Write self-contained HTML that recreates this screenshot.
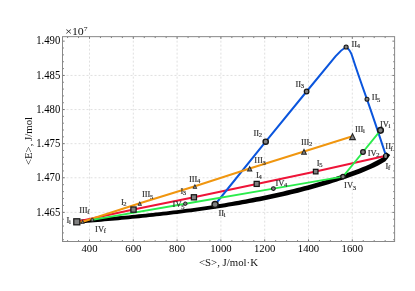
<!DOCTYPE html><html><head><meta charset="utf-8"><style>html,body{margin:0;padding:0;background:#fff;}svg{display:block;will-change:transform;}text{font-family:"Liberation Serif",serif;}</style></head><body>
<svg width="415" height="291" viewBox="0 0 415 291">
<rect width="415" height="291" fill="#fff"/>
<path d="M89.50 36.65V241.5 M133.30 36.65V241.5 M177.10 36.65V241.5 M220.90 36.65V241.5 M264.70 36.65V241.5 M308.50 36.65V241.5 M352.30 36.65V241.5 M62.5 212.40H394.6 M62.5 177.75H394.6 M62.5 143.65H394.6 M62.5 109.55H394.6 M62.5 75.45H394.6" stroke="#dcdcdc" stroke-width="0.9" stroke-dasharray="2,2" fill="none"/>
<path d="M67.60 241.5v-1.4M67.60 36.65v1.4 M78.55 241.5v-1.4M78.55 36.65v1.4 M89.50 241.5v-2.2M89.50 36.65v2.2 M100.45 241.5v-1.4M100.45 36.65v1.4 M111.40 241.5v-1.4M111.40 36.65v1.4 M122.35 241.5v-1.4M122.35 36.65v1.4 M133.30 241.5v-2.2M133.30 36.65v2.2 M144.25 241.5v-1.4M144.25 36.65v1.4 M155.20 241.5v-1.4M155.20 36.65v1.4 M166.15 241.5v-1.4M166.15 36.65v1.4 M177.10 241.5v-2.2M177.10 36.65v2.2 M188.05 241.5v-1.4M188.05 36.65v1.4 M199.00 241.5v-1.4M199.00 36.65v1.4 M209.95 241.5v-1.4M209.95 36.65v1.4 M220.90 241.5v-2.2M220.90 36.65v2.2 M231.85 241.5v-1.4M231.85 36.65v1.4 M242.80 241.5v-1.4M242.80 36.65v1.4 M253.75 241.5v-1.4M253.75 36.65v1.4 M264.70 241.5v-2.2M264.70 36.65v2.2 M275.65 241.5v-1.4M275.65 36.65v1.4 M286.60 241.5v-1.4M286.60 36.65v1.4 M297.55 241.5v-1.4M297.55 36.65v1.4 M308.50 241.5v-2.2M308.50 36.65v2.2 M319.45 241.5v-1.4M319.45 36.65v1.4 M330.40 241.5v-1.4M330.40 36.65v1.4 M341.35 241.5v-1.4M341.35 36.65v1.4 M352.30 241.5v-2.2M352.30 36.65v2.2 M363.25 241.5v-1.4M363.25 36.65v1.4 M374.20 241.5v-1.4M374.20 36.65v1.4 M385.15 241.5v-1.4M385.15 36.65v1.4 M62.5 239.72h1.4M394.6 239.72h-1.4 M62.5 232.89h1.4M394.6 232.89h-1.4 M62.5 226.06h1.4M394.6 226.06h-1.4 M62.5 219.23h1.4M394.6 219.23h-1.4 M62.5 212.40h2.2M394.6 212.40h-2.2 M62.5 205.47h1.4M394.6 205.47h-1.4 M62.5 198.54h1.4M394.6 198.54h-1.4 M62.5 191.61h1.4M394.6 191.61h-1.4 M62.5 184.68h1.4M394.6 184.68h-1.4 M62.5 177.75h2.2M394.6 177.75h-2.2 M62.5 170.93h1.4M394.6 170.93h-1.4 M62.5 164.11h1.4M394.6 164.11h-1.4 M62.5 157.29h1.4M394.6 157.29h-1.4 M62.5 150.47h1.4M394.6 150.47h-1.4 M62.5 143.65h2.2M394.6 143.65h-2.2 M62.5 136.83h1.4M394.6 136.83h-1.4 M62.5 130.01h1.4M394.6 130.01h-1.4 M62.5 123.19h1.4M394.6 123.19h-1.4 M62.5 116.37h1.4M394.6 116.37h-1.4 M62.5 109.55h2.2M394.6 109.55h-2.2 M62.5 102.73h1.4M394.6 102.73h-1.4 M62.5 95.91h1.4M394.6 95.91h-1.4 M62.5 89.09h1.4M394.6 89.09h-1.4 M62.5 82.27h1.4M394.6 82.27h-1.4 M62.5 75.45h2.2M394.6 75.45h-2.2 M62.5 68.59h1.4M394.6 68.59h-1.4 M62.5 61.73h1.4M394.6 61.73h-1.4 M62.5 54.87h1.4M394.6 54.87h-1.4 M62.5 48.01h1.4M394.6 48.01h-1.4 M62.5 41.15h2.2M394.6 41.15h-2.2" stroke="#444" stroke-width="0.7" fill="none"/>
<rect x="62.5" y="36.65" width="332.10" height="204.85" fill="none" stroke="#888" stroke-width="1"/>
<path d="M76.96 223.70 L80.41 223.42 L83.86 223.13 L87.31 222.85 L90.76 222.56 L94.21 222.27 L97.67 221.97 L101.12 221.67 L104.57 221.37 L108.02 221.07 L111.48 220.76 L114.93 220.45 L118.38 220.14 L121.83 219.82 L125.29 219.49 L128.74 219.16 L132.19 218.83 L135.65 218.49 L139.10 218.15 L142.55 217.80 L146.01 217.44 L149.46 217.08 L152.92 216.71 L156.37 216.33 L159.82 215.95 L163.28 215.56 L166.73 215.16 L170.19 214.76 L173.64 214.34 L177.10 213.92 L180.55 213.49 L184.01 213.05 L187.46 212.61 L190.92 212.15 L194.38 211.68 L197.83 211.21 L201.29 210.72 L204.74 210.23 L208.20 209.73 L211.66 209.21 L215.11 208.68 L218.57 208.18 L222.04 207.66 L225.50 207.14 L228.96 206.60 L232.42 206.05 L235.89 205.49 L239.35 204.91 L242.82 204.33 L246.28 203.73 L249.74 203.11 L253.21 202.49 L256.67 201.84 L260.13 201.15 L263.59 200.46 L267.05 199.74 L270.51 199.02 L273.98 198.27 L277.44 197.52 L280.90 196.75 L284.36 195.96 L287.82 195.16 L291.28 194.33 L294.75 193.50 L298.21 192.64 L301.67 191.76 L305.14 190.86 L308.60 189.95 L312.07 189.01 L315.53 188.05 L319.00 187.06 L322.46 186.05 L325.93 185.02 L329.40 183.96 L332.87 182.87 L336.33 181.76 L339.80 180.62 L343.27 179.46 L346.74 178.26 L350.21 177.03 L353.68 175.78 L357.15 174.49 L360.62 173.17 L364.10 171.80 L367.60 170.36 L371.10 168.84 L374.61 167.20 L378.13 165.44 L381.66 163.52 L385.45 161.25 L387.54 158.70 L388.76 157.07 L390.23 155.11 L386.31 152.17 L384.84 154.13 L383.66 155.70 L382.35 157.46 L379.24 159.27 L375.87 161.12 L372.49 162.82 L369.10 164.40 L365.70 165.89 L362.29 167.30 L358.87 168.65 L355.44 169.97 L352.01 171.25 L348.58 172.50 L345.15 173.72 L341.72 174.91 L338.28 176.08 L334.85 177.21 L331.42 178.32 L327.98 179.41 L324.55 180.46 L321.12 181.49 L317.68 182.50 L314.25 183.49 L310.81 184.45 L307.37 185.39 L303.94 186.31 L300.50 187.20 L297.06 188.08 L293.63 188.94 L290.19 189.78 L286.75 190.61 L283.31 191.41 L279.87 192.20 L276.43 192.98 L272.99 193.74 L269.55 194.48 L266.11 195.21 L262.67 195.93 L259.23 196.63 L255.78 197.32 L252.35 198.02 L248.91 198.71 L245.48 199.38 L242.04 200.05 L238.60 200.70 L235.16 201.34 L231.73 201.97 L228.29 202.58 L224.85 203.19 L221.41 203.78 L217.97 204.36 L214.53 204.93 L211.09 205.45 L207.64 205.97 L204.20 206.47 L200.75 206.96 L197.31 207.45 L193.86 207.92 L190.42 208.38 L186.97 208.84 L183.53 209.28 L180.08 209.72 L176.63 210.15 L173.19 210.57 L169.74 210.98 L166.30 211.39 L162.85 211.78 L159.40 212.17 L155.96 212.55 L152.51 212.93 L149.06 213.30 L145.61 213.66 L142.17 214.02 L138.72 214.37 L135.27 214.71 L131.82 215.05 L128.38 215.38 L124.93 215.71 L121.48 216.03 L118.03 216.35 L114.58 216.67 L111.14 216.98 L107.69 217.29 L104.24 217.59 L100.79 217.89 L97.34 218.19 L93.89 218.48 L90.44 218.77 L86.99 219.06 L83.54 219.35 L80.09 219.63 L76.64 219.91Z" fill="#000" stroke="none"/>
<path d="M76.8 221.8 L133.5 209.6 L193.9 197.3 L256.7 183.9 L315.7 171.6 L386.0 155.7" stroke="#ee1438" stroke-width="2" fill="none" stroke-linejoin="round"/>
<path d="M215.1 204.5 L265.7 141.7 L306.6 91.5 L335.7 56.2 C338.2 53.1,342.9 48.8,346.1 47 C348.6 48.6,351 52.2,352.3 56.5 C354.2 62.5,361.5 84,367 99.3 C372 113.5,381 140.5,386 155.7" stroke="#0a55dd" stroke-width="2" fill="none" stroke-linejoin="round"/>
<path d="M352.5 136.3 L304.0 151.5 L249.7 168.5 L194.9 186.2 L139.8 203.3 L82.7 221.7 L76.8 221.8" stroke="#f0960f" stroke-width="2" fill="none" stroke-linejoin="round"/>
<path d="M92.3 219.9 L185.3 203.7 L273.4 188.6 L343.0 176.6 L363.0 152.0 L380.5 130.3" stroke="#2aec4c" stroke-width="1.9" fill="none" stroke-linejoin="round"/>
<rect x="73.77" y="218.78" width="6.05" height="6.05" fill="#808080" stroke="#161616" stroke-width="1.25"/>
<rect x="130.88" y="206.97" width="5.25" height="5.25" fill="#808080" stroke="#161616" stroke-width="1.25"/>
<rect x="191.33" y="194.73" width="5.15" height="5.15" fill="#808080" stroke="#161616" stroke-width="1.25"/>
<rect x="254.17" y="181.38" width="5.05" height="5.05" fill="#808080" stroke="#161616" stroke-width="1.25"/>
<rect x="313.43" y="169.32" width="4.55" height="4.55" fill="#808080" stroke="#161616" stroke-width="1.25"/>
<path d="M348.75 140.20L356.25 140.20L352.50 132.40Z" fill="#242424"/><path d="M350.50 139.10L354.50 139.10L352.50 134.94Z" fill="#808080"/>
<path d="M300.85 154.78L307.15 154.78L304.00 148.22Z" fill="#242424"/><path d="M302.45 153.77L305.55 153.77L304.00 150.55Z" fill="#808080"/>
<path d="M246.75 171.57L252.65 171.57L249.70 165.43Z" fill="#242424"/><path d="M248.25 170.62L251.15 170.62L249.70 167.61Z" fill="#808080"/>
<path d="M192.50 188.70L197.30 188.70L194.90 183.70Z" fill="#242424"/><path d="M193.72 187.93L196.08 187.93L194.90 185.48Z" fill="#808080"/>
<path d="M137.55 205.64L142.05 205.64L139.80 200.96Z" fill="#242424"/><path d="M138.70 204.92L140.90 204.92L139.80 202.62Z" fill="#808080"/>
<path d="M80.70 223.78L84.70 223.78L82.70 219.62Z" fill="#242424"/><path d="M81.72 223.14L83.68 223.14L82.70 221.10Z" fill="#808080"/>
<circle cx="380.5" cy="130.3" r="2.84" fill="#808080" stroke="#161616" stroke-width="1.512"/>
<circle cx="363.0" cy="152.0" r="2.33" fill="#808080" stroke="#161616" stroke-width="1.239"/>
<circle cx="343.0" cy="176.6" r="2.21" fill="#808080" stroke="#161616" stroke-width="1.176"/>
<circle cx="273.4" cy="188.6" r="1.90" fill="#808080" stroke="#161616" stroke-width="1.008"/>
<circle cx="185.3" cy="203.7" r="1.74" fill="#808080" stroke="#161616" stroke-width="0.924"/>
<circle cx="92.3" cy="219.9" r="1.50" fill="#808080" stroke="#161616" stroke-width="0.7979999999999999"/>
<circle cx="215.1" cy="204.5" r="3.05" fill="#808080" stroke="#161616" stroke-width="1.4"/>
<circle cx="265.7" cy="141.7" r="2.61" fill="#808080" stroke="#161616" stroke-width="1.386"/>
<circle cx="306.6" cy="91.5" r="2.29" fill="#808080" stroke="#161616" stroke-width="1.218"/>
<circle cx="346.1" cy="47.0" r="2.05" fill="#808080" stroke="#161616" stroke-width="1.092"/>
<circle cx="367.0" cy="99.3" r="1.98" fill="#808080" stroke="#161616" stroke-width="1.05"/>
<circle cx="385.7" cy="155.9" r="2.7" fill="#000"/>
<rect x="384.3" y="153.9" width="2.6" height="4.2" rx="1.1" fill="#8c8c8c"/>
<text transform="translate(66.5,222.9) scale(1,1)" font-size="8.5" fill="#2e2e2e" stroke="#2e2e2e" stroke-width="0.16">I<tspan dx="-0.4" dy="1.3" font-size="6.6">i</tspan></text>
<text transform="translate(79.2,213.0) scale(1,1)" font-size="8.5" fill="#2e2e2e" stroke="#2e2e2e" stroke-width="0.16">III<tspan dx="-0.4" dy="1.3" font-size="6.6">f</tspan></text>
<text transform="translate(95.1,231.9) scale(1,1)" font-size="8.5" fill="#2e2e2e" stroke="#2e2e2e" stroke-width="0.16">IV<tspan dx="-0.4" dy="1.3" font-size="6.6">f</tspan></text>
<text transform="translate(120.9,204.8) scale(1,1)" font-size="8.5" fill="#2e2e2e" stroke="#2e2e2e" stroke-width="0.16">I<tspan dx="-0.4" dy="1.3" font-size="6.6">2</tspan></text>
<text transform="translate(141.9,197.4) scale(1,1)" font-size="8.5" fill="#2e2e2e" stroke="#2e2e2e" stroke-width="0.16">III<tspan dx="-0.4" dy="1.3" font-size="6.6">5</tspan></text>
<text transform="translate(180.4,193.9) scale(1,1)" font-size="8.5" fill="#2e2e2e" stroke="#2e2e2e" stroke-width="0.16">I<tspan dx="-0.4" dy="1.3" font-size="6.6">3</tspan></text>
<text transform="translate(188.9,182.1) scale(1,1)" font-size="8.5" fill="#2e2e2e" stroke="#2e2e2e" stroke-width="0.16">III<tspan dx="-0.4" dy="1.3" font-size="6.6">4</tspan></text>
<text transform="translate(172.6,207.4) scale(1,1)" font-size="8.5" fill="#2e2e2e" stroke="#2e2e2e" stroke-width="0.16">IV<tspan dx="-0.4" dy="1.3" font-size="6.6">5</tspan></text>
<text transform="translate(218.5,216.0) scale(1,1)" font-size="8.5" fill="#2e2e2e" stroke="#2e2e2e" stroke-width="0.16">II<tspan dx="-0.4" dy="1.3" font-size="6.6">i</tspan></text>
<text transform="translate(256.1,178.0) scale(1,1)" font-size="8.5" fill="#2e2e2e" stroke="#2e2e2e" stroke-width="0.16">I<tspan dx="-0.4" dy="1.3" font-size="6.6">4</tspan></text>
<text transform="translate(275.5,186.1) scale(1,1)" font-size="8.5" fill="#2e2e2e" stroke="#2e2e2e" stroke-width="0.16">IV<tspan dx="-0.4" dy="1.3" font-size="6.6">4</tspan></text>
<text transform="translate(254.3,163.4) scale(1,1)" font-size="8.5" fill="#2e2e2e" stroke="#2e2e2e" stroke-width="0.16">III<tspan dx="-0.4" dy="1.3" font-size="6.6">3</tspan></text>
<text transform="translate(253.4,135.5) scale(1,1)" font-size="8.5" fill="#2e2e2e" stroke="#2e2e2e" stroke-width="0.16">II<tspan dx="-0.4" dy="1.3" font-size="6.6">2</tspan></text>
<text transform="translate(300.9,144.8) scale(1,1)" font-size="8.5" fill="#2e2e2e" stroke="#2e2e2e" stroke-width="0.16">III<tspan dx="-0.4" dy="1.3" font-size="6.6">2</tspan></text>
<text transform="translate(295.4,86.9) scale(1,1)" font-size="8.5" fill="#2e2e2e" stroke="#2e2e2e" stroke-width="0.16">II<tspan dx="-0.4" dy="1.3" font-size="6.6">3</tspan></text>
<text transform="translate(351.4,47.0) scale(1,1)" font-size="8.5" fill="#2e2e2e" stroke="#2e2e2e" stroke-width="0.16">II<tspan dx="-0.4" dy="1.3" font-size="6.6">4</tspan></text>
<text transform="translate(371.8,100.2) scale(1,1)" font-size="8.5" fill="#2e2e2e" stroke="#2e2e2e" stroke-width="0.16">II<tspan dx="-0.4" dy="1.3" font-size="6.6">5</tspan></text>
<text transform="translate(354.9,131.7) scale(1,1)" font-size="8.5" fill="#2e2e2e" stroke="#2e2e2e" stroke-width="0.16">III<tspan dx="-0.4" dy="1.3" font-size="6.6">i</tspan></text>
<text transform="translate(379.9,126.8) scale(1,1)" font-size="8.5" fill="#2e2e2e" stroke="#2e2e2e" stroke-width="0.16">IV<tspan dx="-0.4" dy="1.3" font-size="6.6">i</tspan></text>
<text transform="translate(367.7,156.0) scale(1,1)" font-size="8.5" fill="#2e2e2e" stroke="#2e2e2e" stroke-width="0.16">IV<tspan dx="-0.4" dy="1.3" font-size="6.6">2</tspan></text>
<text transform="translate(344.1,188.4) scale(1,1)" font-size="8.5" fill="#2e2e2e" stroke="#2e2e2e" stroke-width="0.16">IV<tspan dx="-0.4" dy="1.3" font-size="6.6">3</tspan></text>
<text transform="translate(316.8,166.0) scale(1,1)" font-size="8.5" fill="#2e2e2e" stroke="#2e2e2e" stroke-width="0.16">I<tspan dx="-0.4" dy="1.3" font-size="6.6">5</tspan></text>
<text transform="translate(385.3,149.4) scale(1,1)" font-size="8.5" fill="#2e2e2e" stroke="#2e2e2e" stroke-width="0.16">II<tspan dx="-0.4" dy="1.3" font-size="6.6">f</tspan></text>
<text transform="translate(385.5,168.9) scale(1,1)" font-size="8.5" fill="#2e2e2e" stroke="#2e2e2e" stroke-width="0.16">I<tspan dx="-0.4" dy="1.3" font-size="6.6">f</tspan></text>
<text transform="translate(60.3,215.50) scale(1,1.07)" font-size="10.7" text-anchor="end" fill="#000">1.465</text>
<text transform="translate(60.3,180.85) scale(1,1.07)" font-size="10.7" text-anchor="end" fill="#000">1.470</text>
<text transform="translate(60.3,146.75) scale(1,1.07)" font-size="10.7" text-anchor="end" fill="#000">1.475</text>
<text transform="translate(60.3,112.65) scale(1,1.07)" font-size="10.7" text-anchor="end" fill="#000">1.480</text>
<text transform="translate(60.3,78.55) scale(1,1.07)" font-size="10.7" text-anchor="end" fill="#000">1.485</text>
<text transform="translate(60.3,44.25) scale(1,1.07)" font-size="10.7" text-anchor="end" fill="#000">1.490</text>
<text transform="translate(89.5,251.7) scale(1,1.05)" font-size="10.7" text-anchor="middle" fill="#000">400</text>
<text transform="translate(133.3,251.7) scale(1,1.05)" font-size="10.7" text-anchor="middle" fill="#000">600</text>
<text transform="translate(177.1,251.7) scale(1,1.05)" font-size="10.7" text-anchor="middle" fill="#000">800</text>
<text transform="translate(220.9,251.7) scale(1,1.05)" font-size="10.7" text-anchor="middle" fill="#000">1000</text>
<text transform="translate(264.7,251.7) scale(1,1.05)" font-size="10.7" text-anchor="middle" fill="#000">1200</text>
<text transform="translate(308.5,251.7) scale(1,1.05)" font-size="10.7" text-anchor="middle" fill="#000">1400</text>
<text transform="translate(352.3,251.7) scale(1,1.05)" font-size="10.7" text-anchor="middle" fill="#000">1600</text>
<text transform="translate(65.2,35.0) scale(1.09,1)" font-size="10.9" fill="#111">×10<tspan dy="-4.3" font-size="7">7</tspan></text>
<text x="228.5" y="265.8" font-size="10.8" text-anchor="middle" fill="#111">&lt;S&gt;, J/mol·K</text>
<text transform="translate(32,141) rotate(-90)" font-size="10.8" text-anchor="middle" fill="#111">&lt;E&gt;, J/mol</text>
</svg></body></html>
